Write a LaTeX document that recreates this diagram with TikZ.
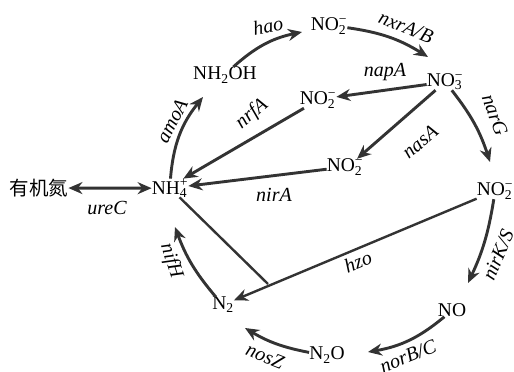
\documentclass[tikz,border=0pt]{standalone}
\usepackage{fontspec}
\setmainfont{Liberation Serif}
\newfontfamily\cjk{Noto Sans CJK SC}
\usetikzlibrary{arrows.meta}
\newcommand{\sbsp}[3]{#1\rlap{\textsubscript{#2}}\textsuperscript{#3}}
\tikzset{
  sp/.style={inner sep=0pt, font=\fontsize{19.5}{22}\selectfont},
  gene/.style={inner sep=0pt, font=\fontsize{20}{22}\selectfont\itshape},
  arr/.style={draw=black!80, line width=2.9pt, -{Stealth[length=14pt,width=12pt]}},
  biarr/.style={arr, {Stealth[length=14pt,width=12pt]}-{Stealth[length=14pt,width=12pt]}},
  hz/.style={draw=black!80, line width=2.4pt}
}
\begin{document}
\begin{tikzpicture}[x=1pt,y=1pt]
    \useasboundingbox (0,0) rectangle (514,372);
    % Stoffe
    \node[sp] (org) at (39,184) {\cjk 有机氮};
    \node[sp] (nh4) at (170,184) {\sbsp{NH}{4}{+}};
    \node[sp] (nh2oh) at (225,297) {NH\textsubscript{2}OH};
    \node[sp] (no2a) at (329,346) {\sbsp{NO}{2}{−}};
    \node[sp] (no3) at (445,290) {\sbsp{NO}{3}{−}};
    \node[sp] (no2b) at (318,272) {\sbsp{NO}{2}{−}};
    \node[sp] (no2c) at (345,205) {\sbsp{NO}{2}{−}};
    \node[sp] (no2d) at (495,181) {\sbsp{NO}{2}{−}};
    \node[sp] (no) at (452,62) {NO};
    \node[sp] (n2o) at (327,17) {N\textsubscript{2}O};
    \node[sp] (n2) at (223,67) {N\textsubscript{2}};

    % Umwandlungen
    \draw[biarr] ([shift={(33,-1)}]org) -- ([shift={(-27,-1)}]nh4);
    \draw[arr] ([shift={(3,33)}]nh4) to[bend left=17] ([shift={(-22,-22)}]nh2oh);
    \draw[arr] ([shift={(23,23)}]nh2oh) to[bend left=15] ([shift={(-27,-6)}]no2a);
    \draw[arr] ([shift={(41,-4)}]no2a) to[bend left=12] ([shift={(-17,25)}]no3);
    \draw[arr] ([shift={(-20,0)}]no3) -- ([shift={(32,8)}]no2b);
    \draw[arr] ([shift={(-12,-25)}]no3) -- ([shift={(32,20)}]no2c);
    \draw[arr] ([shift={(22,-21)}]no3) to[bend left=10] ([shift={(-5,29)}]no2d);
    \draw[arr] ([shift={(-41,-13)}]no2b) -- ([shift={(52,31)}]nh4);
    \draw[arr] ([shift={(-35,-6)}]no2c) -- ([shift={(57,1)}]nh4);
    \draw[arr] ([shift={(-5,-36)}]no2d) to[bend left=8] ([shift={(16,27)}]no);
    \draw[arr] ([shift={(-25,-17)}]no) to[bend left=15] ([shift={(41,3)}]n2o);
    \draw[arr] ([shift={(-29,3)}]n2o) to[bend left=10] ([shift={(22,-23)}]n2);
    \draw[arr] ([shift={(-30,28)}]n2) to[bend left=10] ([shift={(5,-39)}]nh4);

    % Anammox
    \draw[arr, line width=2.4pt] ([shift={(-32,-12)}]no2d) -- ([shift={(12,7)}]n2);
    \coordinate (hzoj) at (268,88);
    \draw[hz] ([shift={(22,-20)}]nh4) -- (hzoj);

    % Gene
    \node[gene] (lure) at (107,164) {ureC};
    \node[gene, rotate=63] (lamo) at (172,251) {amoA};
    \node[gene, rotate=10] (lhao) at (268,346) {hao};
    \node[gene, rotate=-22] (lnxr) at (406,345) {nxrA/B};
    \node[gene] (lnap) at (385,300) {napA};
    \node[gene, rotate=40] (lnas) at (420,230) {nasA};
    \node[gene, rotate=-70] (lnar) at (495,257) {narG};
    \node[gene, rotate=40] (lnrf) at (252,258) {nrfA};
    \node[gene] (lnir) at (274,177) {nirA};
    \node[gene, rotate=67] (lnirk) at (498,117) {nirK/S};
    \node[gene, rotate=22] (lnor) at (408,16) {norB/C};
    \node[gene, rotate=-22] (lnos) at (265,16) {nosZ};
    \node[gene, rotate=-72] (lnif) at (171,111) {nifH};
    \node[gene, rotate=22] (lhzo) at (358,110) {hzo};
\end{tikzpicture}
\end{document}
